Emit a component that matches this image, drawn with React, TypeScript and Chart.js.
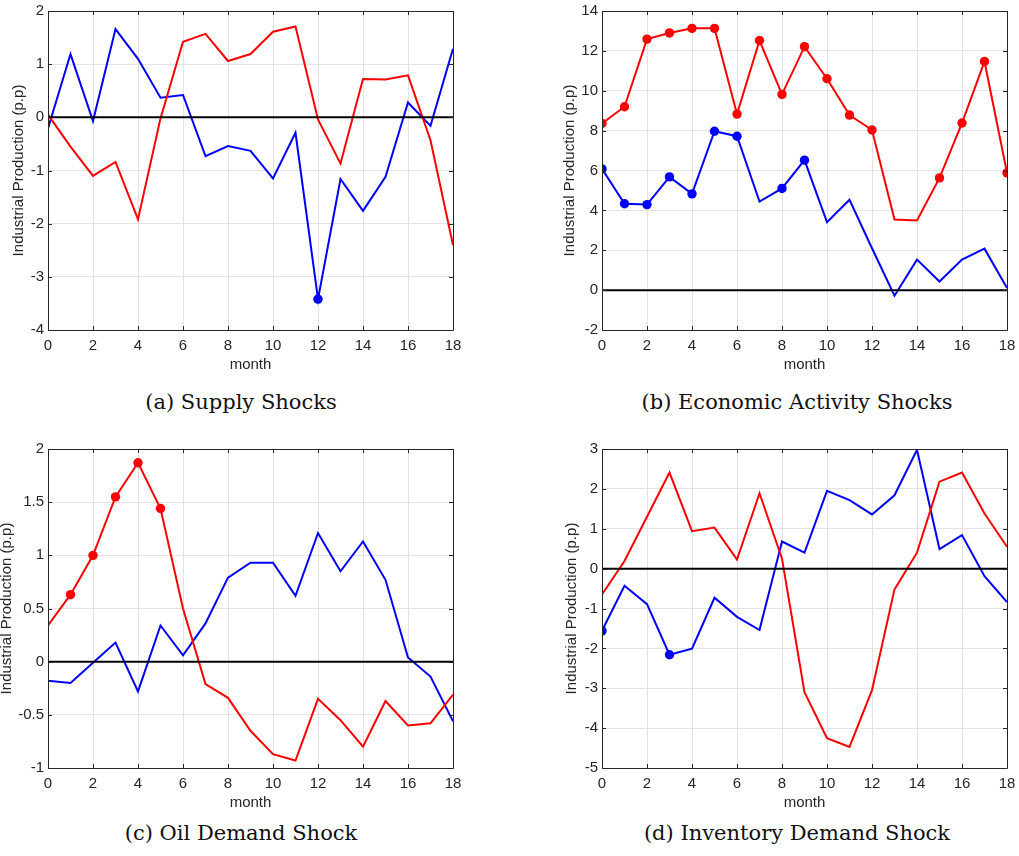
import React, { useEffect, useRef } from "react";
import { Chart, registerables } from "chart.js";

Chart.register(...registerables);

// ---------- data ----------
const months = [0, 1, 2, 3, 4, 5, 6, 7, 8, 9, 10, 11, 12, 13, 14, 15, 16, 17, 18];
const zeroLine = [0, 0];

const supplyRed = [0.05, -0.55, -1.1, -0.84, -1.92, -0.02, 1.42, 1.57, 1.06, 1.19, 1.61, 1.71, -0.04, -0.87, 0.72, 0.71, 0.79, -0.43, -2.4];
const supplyBlue = [-0.21, 1.19, -0.07, 1.66, 1.1, 0.37, 0.42, -0.73, -0.54, -0.63, -1.15, -0.29, -3.42, -1.16, -1.76, -1.12, 0.28, -0.16, 1.29];
const supplyRedSig = [0, 0, 0, 0, 0, 0, 0, 0, 0, 0, 0, 0, 0, 0, 0, 0, 0, 0, 0];
const supplyBlueSig = [0, 0, 0, 0, 0, 0, 0, 0, 0, 0, 0, 0, 1, 0, 0, 0, 0, 0, 0];

const econRed = [8.36, 9.2, 12.59, 12.9, 13.13, 13.13, 8.83, 12.52, 9.82, 12.21, 10.6, 8.78, 8.03, 3.54, 3.49, 5.63, 8.38, 11.47, 5.88];
const econBlue = [6.08, 4.33, 4.29, 5.68, 4.83, 7.97, 7.72, 4.44, 5.1, 6.52, 3.41, 4.53, 2.1, -0.28, 1.53, 0.43, 1.53, 2.08, 0.11];
const econRedSig = [1, 1, 1, 1, 1, 1, 1, 1, 1, 1, 1, 1, 1, 0, 0, 1, 1, 1, 1];
const econBlueSig = [1, 1, 1, 1, 1, 1, 1, 0, 1, 1, 0, 0, 0, 0, 0, 0, 0, 0, 0];

const oilRed = [0.34, 0.63, 1.0, 1.55, 1.87, 1.44, 0.5, -0.21, -0.34, -0.65, -0.87, -0.93, -0.35, -0.55, -0.8, -0.37, -0.6, -0.58, -0.31];
const oilBlue = [-0.18, -0.2, -0.01, 0.18, -0.28, 0.34, 0.06, 0.36, 0.79, 0.93, 0.93, 0.62, 1.21, 0.85, 1.13, 0.77, 0.04, -0.14, -0.56];
const oilRedSig = [0, 1, 1, 1, 1, 1, 0, 0, 0, 0, 0, 0, 0, 0, 0, 0, 0, 0, 0];
const oilBlueSig = [0, 0, 0, 0, 0, 0, 0, 0, 0, 0, 0, 0, 0, 0, 0, 0, 0, 0, 0];

const invRed = [-0.65, 0.19, 1.3, 2.41, 0.94, 1.03, 0.23, 1.89, 0.25, -3.1, -4.25, -4.47, -3.05, -0.52, 0.4, 2.18, 2.41, 1.38, 0.55];
const invBlue = [-1.56, -0.43, -0.89, -2.16, -2.01, -0.73, -1.21, -1.54, 0.68, 0.4, 1.95, 1.72, 1.36, 1.84, 2.98, 0.49, 0.84, -0.19, -0.84];
const invRedSig = [0, 0, 0, 0, 0, 0, 0, 0, 0, 0, 0, 0, 0, 0, 0, 0, 0, 0, 0];
const invBlueSig = [1, 0, 0, 1, 0, 0, 0, 0, 0, 0, 0, 0, 0, 0, 0, 0, 0, 0, 0];

const xTitle = "month";
const yTitle = "Industrial Production (p.p)";
const captions = ["(a) Supply Shocks", "(b) Economic Activity Shocks", "(c) Oil Demand Shock", "(d) Inventory Demand Shock"];

// ---------- panel setup ----------
type Panel = {
  red: number[];
  blue: number[];
  redSig: number[];
  blueSig: number[];
  yMin: number;
  yMax: number;
  yStep: number;
  left: number;
  top: number;
  titlePad: number;
  caption: string;
  capX: number;
  capY: number;
};

const panels: Panel[] = [
  { red: supplyRed, blue: supplyBlue, redSig: supplyRedSig, blueSig: supplyBlueSig, yMin: -4, yMax: 2, yStep: 1, left: -12, top: 1, titlePad: 21.5, caption: captions[0], capX: 241, capY: 402 },
  { red: econRed, blue: econBlue, redSig: econRedSig, blueSig: econBlueSig, yMin: -2, yMax: 14, yStep: 2, left: 542, top: 1, titlePad: 19.1, caption: captions[1], capX: 797, capY: 402 },
  { red: oilRed, blue: oilBlue, redSig: oilRedSig, blueSig: oilBlueSig, yMin: -1, yMax: 2, yStep: 0.5, left: -12, top: 439, titlePad: 9.8, caption: captions[2], capX: 241, capY: 833 },
  { red: invRed, blue: invBlue, redSig: invRedSig, blueSig: invBlueSig, yMin: -5, yMax: 3, yStep: 1, left: 542, top: 439, titlePad: 20.8, caption: captions[3], capX: 797, capY: 833 },
];

const CANVAS_W = 477;
const CANVAS_H = 379;
const AXIS_COLOR = "#262626";
const FONT = "'Liberation Sans', Arial, Helvetica, sans-serif";
const FONT_SIZE = 15;

const boxPlugin = {
  id: "matlabBox",
  afterDatasetsDraw(chart: any) {
    const { ctx, chartArea, scales } = chart;
    const { left, right, top, bottom } = chartArea;
    const xs = scales.x;
    const ys = scales.y;
    ctx.save();
    ctx.strokeStyle = AXIS_COLOR;
    ctx.lineWidth = 1;
    ctx.beginPath();
    ctx.rect(left + 0.5, top + 0.5, right - left, bottom - top);
    ctx.stroke();
    const tl = 4;
    ctx.beginPath();
    xs.ticks.forEach((t: any) => {
      const px = Math.round(xs.getPixelForValue(t.value)) + 0.5;
      ctx.moveTo(px, bottom);
      ctx.lineTo(px, bottom - tl);
      ctx.moveTo(px, top);
      ctx.lineTo(px, top + tl);
    });
    ys.ticks.forEach((t: any) => {
      const py = Math.round(ys.getPixelForValue(t.value)) + 0.5;
      ctx.moveTo(left, py);
      ctx.lineTo(left + tl, py);
      ctx.moveTo(right, py);
      ctx.lineTo(right - tl, py);
    });
    ctx.stroke();
    ctx.restore();
  },
};

function PanelChart({ p }: { p: Panel }) {
  const ref = useRef<HTMLCanvasElement | null>(null);
  useEffect(() => {
    if (!ref.current) return;
    const toPts = (arr: number[]) => months.map((m, i) => ({ x: m, y: arr[i] }));
    const radii = (sig: number[]) => sig.map((s) => (s ? 4.7 : 0));
    const chart = new Chart(ref.current, {
      type: "line",
      data: {
        datasets: [
          {
            data: [
              { x: months[0], y: zeroLine[0] },
              { x: months[months.length - 1], y: zeroLine[1] },
            ],
            borderColor: "#000000",
            borderWidth: 2,
            pointRadius: 0,
          },
          {
            data: toPts(p.red),
            borderColor: "#ff0000",
            backgroundColor: "#ff0000",
            borderWidth: 2,
            pointRadius: radii(p.redSig),
            pointBackgroundColor: "#ff0000",
            pointBorderWidth: 0,
          },
          {
            data: toPts(p.blue),
            borderColor: "#0000ff",
            backgroundColor: "#0000ff",
            borderWidth: 2,
            pointRadius: radii(p.blueSig),
            pointBackgroundColor: "#0000ff",
            pointBorderWidth: 0,
          },
        ],
      },
      options: {
        animation: false,
        responsive: false,
        devicePixelRatio: 1,
        layout: { padding: { left: 0, top: 10, right: 12, bottom: 0 } },
        plugins: { legend: { display: false }, tooltip: { enabled: false } },
        elements: { line: { tension: 0 } },
        scales: {
          x: {
            type: "linear",
            min: 0,
            max: 18,
            afterFit: (s: any) => {
              s.height = 50;
              s.paddingLeft = 0;
              s.paddingRight = 0;
            },
            ticks: {
              stepSize: 2,
              padding: 6.5,
              color: AXIS_COLOR,
              font: { family: FONT, size: FONT_SIZE },
              maxRotation: 0,
              callback: (v: any) => String(v),
            },
            grid: { color: "#e3e3e3", lineWidth: 1, drawTicks: false },
            border: { display: false },
            title: {
              display: true,
              text: xTitle,
              color: AXIS_COLOR,
              font: { family: FONT, size: FONT_SIZE },
              padding: { top: 0, bottom: 6 },
            },
          },
          y: {
            type: "linear",
            min: p.yMin,
            max: p.yMax,
            afterFit: (s: any) => {
              s.width = 60;
              s.paddingTop = 0;
              s.paddingBottom = 0;
            },
            ticks: {
              stepSize: p.yStep,
              padding: 4,
              color: AXIS_COLOR,
              font: { family: FONT, size: FONT_SIZE },
              callback: (v: any) => String(v),
            },
            grid: { color: "#e3e3e3", lineWidth: 1, drawTicks: false },
            border: { display: false },
            title: {
              display: true,
              text: yTitle,
              color: AXIS_COLOR,
              font: { family: FONT, size: FONT_SIZE },
              padding: { top: p.titlePad, bottom: 0 },
            },
          },
        },
      },
      plugins: [boxPlugin],
    } as any);
    return () => chart.destroy();
  }, [p]);
  return (
    <canvas
      ref={ref}
      width={CANVAS_W}
      height={CANVAS_H}
      style={{ position: "absolute", left: p.left, top: p.top, width: CANVAS_W, height: CANVAS_H }}
    />
  );
}

export default function App() {
  return (
    <div
      style={{
        position: "absolute",
        left: 0,
        top: 0,
        width: 1019,
        height: 856,
        overflow: "hidden",
        background: "#ffffff",
      }}
    >
      {panels.map((p, i) => (
        <React.Fragment key={i}>
          <PanelChart p={p} />
          <div
            style={{
              position: "absolute",
              left: p.capX - 250,
              top: p.capY - 13,
              width: 500,
              height: 26,
              lineHeight: "26px",
              textAlign: "center",
              fontFamily: "'DejaVu Serif', serif",
              fontSize: 21,
              color: "#111111",
              whiteSpace: "nowrap",
            }}
          >
            {p.caption}
          </div>
        </React.Fragment>
      ))}
    </div>
  );
}
